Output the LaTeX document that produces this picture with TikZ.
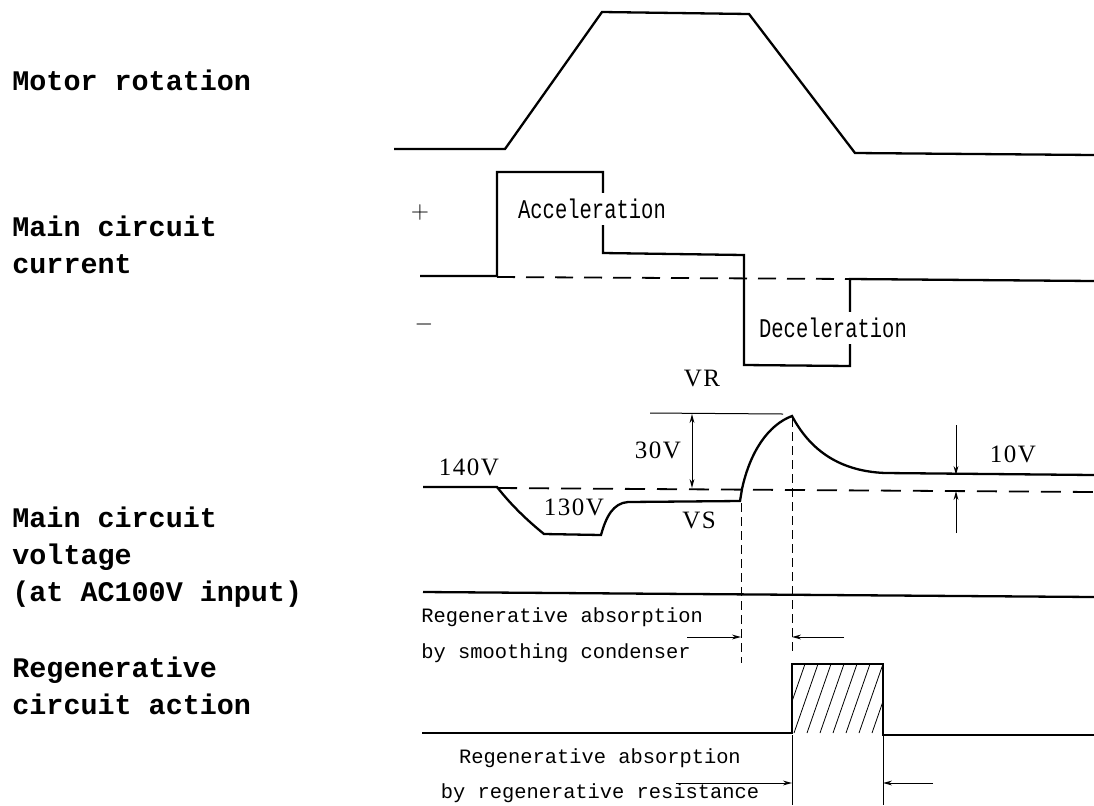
\documentclass[tikz,border=0pt]{standalone}
\usepackage{fontspec}
\usepackage{graphicx}
\usetikzlibrary{arrows.meta}
\newfontfamily\monofont{Liberation Mono}
\newfontfamily\valfont[LetterSpace=6]{Liberation Serif}

\tikzset{
  wave/.style={line width=1.15pt, line join=miter},
  zeroline/.style={line width=0.9pt, dash pattern=on 9pt off 5.5pt},
  levelline/.style={line width=0.9pt, dash pattern=on 10pt off 6pt},
  marker/.style={line width=0.5pt, dash pattern=on 4.5pt off 2.5pt},
  dimline/.style={line width=0.5pt},
  hatch/.style={line width=0.4pt},
  sidelabel/.style={anchor=west, inner sep=0pt, align=left,
    font=\monofont\bfseries\fontsize{14.2}{18.5}\selectfont},
  phaselabel/.style={inner sep=3pt, fill=white,
    font=\monofont\fontsize{13.5}{15}\selectfont},
  notelabel/.style={inner sep=0pt, font=\monofont\fontsize{10.2}{18}\selectfont},
  voltlabel/.style={inner sep=0pt, font=\valfont\fontsize{12.5}{14}\selectfont},
  signlabel/.style={inner sep=0pt, font=\fontsize{12}{14}\selectfont},
}

\begin{document}
\begin{tikzpicture}[x=0.5pt, y=-0.5pt, >={Stealth[length=4.5pt,width=2.4pt]}]
            \useasboundingbox (0,0) rectangle (1094,805);

            \node[sidelabel] (rotlabel) at (12,80) {Motor rotation};
            \node[sidelabel] (curlabel) at (12,245) {Main circuit\\current};
            \node[sidelabel] (voltlabel) at (12,557) {Main circuit\\voltage\\(at AC100V input)};
            \node[sidelabel] (regenlabel) at (12,686) {Regenerative\\circuit action};

            \draw[wave] (394,149) -- (505,149) -- (602,12) -- (749,14) -- (855,153) -- (1094,155);

            \draw[wave] (420,276) -- (497,276) -- (497,172) -- (603,172) -- (603,253) -- (744,255)
                -- (744,365) -- (850,366) -- (850,279) -- (1094,281);
            \draw[zeroline] (497,277) -- (850,279);
            \node[phaselabel] (accel) at (592,209) {\scalebox{0.76}[1]{Acceleration}};
            \node[phaselabel] (decel) at (833,328) {\scalebox{0.76}[1]{Deceleration}};
            \node[signlabel] (plus) at (420,212) {$+$};
            \node[signlabel] (minus) at (424,324) {$-$};

            \draw[wave] (423,487) -- (497,487) .. controls (512,506) and (528,521) .. (544,534) -- (601,535)
                .. controls (606,517) and (613,503) .. (628,502) -- (740,501) -- (742,489)
                .. controls (750,452) and (768,425) .. (792,416)
                .. controls (808,446) and (835,471) .. (885,473) -- (1094,475);
            \draw[levelline] (497,488) -- (1094,492);
            \draw[dimline] (650,413) -- (783,414);
            \coordinate (vrlevel) at (692,414);
            \coordinate (vslevel) at (692,488);
            \draw[dimline,<->] (vrlevel) -- (vslevel);
            \coordinate (tenabove) at (956,425);
            \coordinate (tentop) at (956,475);
            \coordinate (tenbot) at (956,491);
            \coordinate (tenbelow) at (956,533);
            \draw[dimline,->] (tenabove) -- (tentop);
            \draw[dimline,->] (tenbelow) -- (tenbot);
            \node[voltlabel] (v140) at (469,467) {140V};
            \node[voltlabel] (v130) at (574,507) {130V};
            \node[voltlabel] (v30) at (658,450) {30V};
            \node[voltlabel] (v10) at (1013,454) {10V};
            \node[voltlabel] (vr) at (702,378) {VR};
            \node[voltlabel] (vs) at (699,520) {VS};

            \draw[marker] (741,503) -- (741,663);
            \draw[marker] (792,418) -- (792,652);
            \draw[wave] (423,592) -- (1094,597);
            \coordinate (condleft) at (687,637);
            \coordinate (condright) at (844,637);
            \draw[dimline,->] (condleft) -- (741,637);
            \draw[dimline,->] (condright) -- (792,637);
            \node[notelabel, anchor=west, align=left] (condnote) at (421,635) {Regenerative absorption\\by smoothing condenser};

            \begin{scope}
                \clip (792,664) rectangle (883,733);
                \foreach \k in {0,...,9}
                    \draw[hatch] (768+\k*13,733) -- ++(24,-69);
            \end{scope}
            \draw[wave] (422,733) -- (792,733) -- (792,664) -- (883,664) -- (883,735) -- (1094,735);
            \draw[dimline] (792,735) -- (792,805);
            \draw[dimline] (883,735) -- (883,805);
            \coordinate (resleft) at (676,783);
            \coordinate (resright) at (933,783);
            \draw[dimline,->] (resleft) -- (792,783);
            \draw[dimline,->] (resright) -- (883,783);
            \node[notelabel, align=center, font=\monofont\fontsize{10.2}{17.5}\selectfont] (resnote) at (600,776) {Regenerative absorption\\by regenerative resistance};
        \end{tikzpicture}
\end{document}
